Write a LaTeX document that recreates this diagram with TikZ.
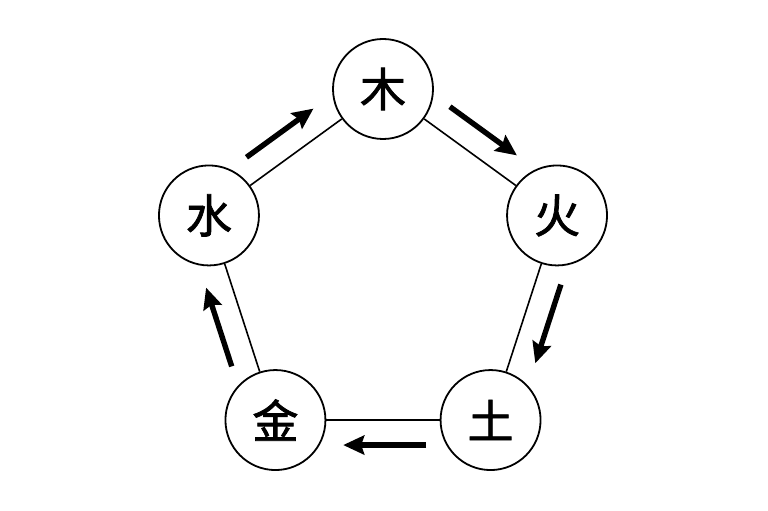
\documentclass[tikz,border=0pt]{standalone}
\usepackage{fontspec}
\newfontfamily\cjk{Noto Sans CJK SC}[AutoFakeBold=1.6]
\usetikzlibrary{arrows.meta,calc}

\begin{document}
\begin{tikzpicture}[x=1pt, y=1pt,
    element/.style={circle, draw=black, line width=1.8pt, fill=white,
      minimum size=100pt, inner sep=0pt, font=\cjk\bfseries\fontsize{46}{46}\selectfont},
    edge/.style={draw=black, line width=1.6pt},
    flow/.style={draw=black, line width=5.4pt,
      -{Stealth[length=21pt, width=19pt, inset=3pt]}}]
    \useasboundingbox (0,0) rectangle (768,511);
    \coordinate (center) at (383,239);
    % the five elements on a regular pentagon
    \node[element] (mu)   at ($(center)+(90:183)$)  {木};
    \node[element] (huo)  at ($(center)+(18:183)$)  {火};
    \node[element] (tu)   at ($(center)+(-54:183)$) {土};
    \node[element] (jin)  at ($(center)+(234:183)$) {金};
    \node[element] (shui) at ($(center)+(162:183)$) {水};
    \foreach \a/\b in {mu/huo, huo/tu, tu/jin, jin/shui, shui/mu}
      \draw[edge] (\a) -- (\b);
    % generating cycle
    \foreach \a/\b in {shui/mu, mu/huo, huo/tu, tu/jin, jin/shui}
      \draw[flow] ($(\a.center)!0.30!(\b.center)!25pt!90:(\b.center)$) --
        ($(\a.center)!0.685!(\b.center)!25pt!90:(\b.center)$);
\end{tikzpicture}
\end{document}
